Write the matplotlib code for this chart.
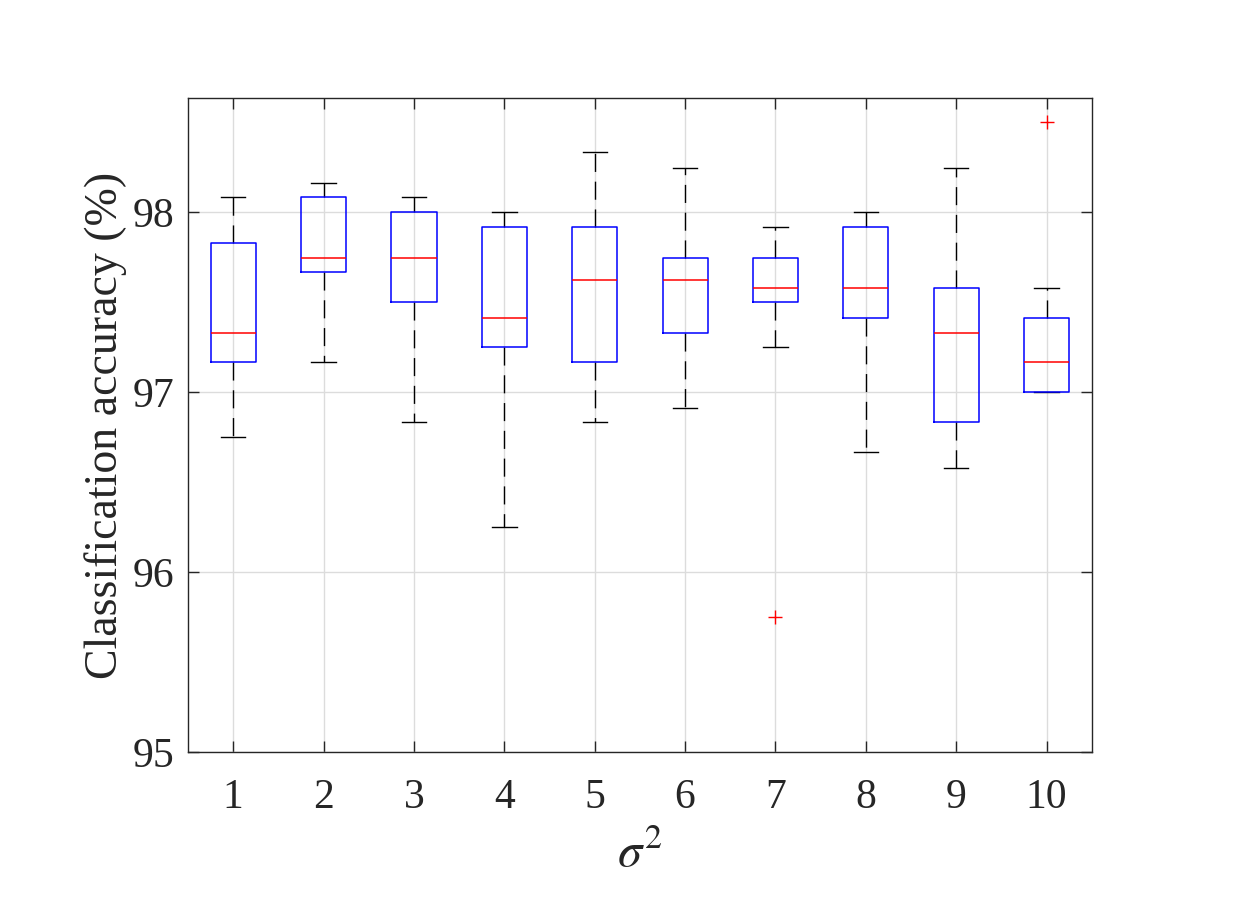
import matplotlib
matplotlib.use("Agg")
import matplotlib.pyplot as plt

plt.rcParams['font.family'] = ['Liberation Serif', 'DejaVu Serif']
plt.rcParams['mathtext.fontset'] = 'stix'

# values (classification accuracy %, per sigma^2)
sigma2 = [1, 2, 3, 4, 5, 6, 7, 8, 9, 10]
q1 = [97.165, 97.667, 97.498, 97.25, 97.165, 97.328, 97.498, 97.413, 96.835, 97.0]
med = [97.328, 97.744, 97.744, 97.413, 97.624, 97.624, 97.58, 97.58, 97.328, 97.165]
q3 = [97.83, 98.083, 98.0, 97.915, 97.915, 97.744, 97.744, 97.915, 97.58, 97.413]
whislo = [96.75, 97.165, 96.835, 96.25, 96.835, 96.91, 97.25, 96.667, 96.58, 97.0]
whishi = [98.083, 98.161, 98.083, 98.0, 98.333, 98.246, 97.915, 98.0, 98.246, 97.58]
outliers = [[], [], [], [], [], [], [95.748], [], [], [98.498]]

stats = []
for i in range(len(sigma2)):
    stats.append(dict(med=med[i], q1=q1[i], q3=q3[i], whislo=whislo[i],
                      whishi=whishi[i], fliers=outliers[i]))

fig = plt.figure(figsize=(12.41, 8.98), dpi=100)
ax = fig.add_axes([0.1515, 0.1626, 0.7283, 0.7283])

ax.bxp(stats, positions=sigma2, widths=0.5, capwidths=0.27,
       boxprops=dict(color='#0000ff', linewidth=1.1, zorder=2.2),
       medianprops=dict(color='#ff0000', linewidth=1.1, zorder=2.3),
       whiskerprops=dict(color='black', linewidth=1.0, linestyle=(0, (13, 7)), zorder=2),
       capprops=dict(color='black', linewidth=1.0, zorder=2),
       flierprops=dict(marker='+', markeredgecolor='#ff0000', markersize=10,
                       markeredgewidth=1.0, linestyle='none'))

ax.set_xlim(0.5, 10.5)
ax.set_ylim(95, 98.633)
ax.set_xticks(sigma2)
ax.set_xticklabels([str(s) for s in sigma2])
ax.set_yticks([95, 96, 97, 98])
ax.grid(True, color='#dcdcdc', linewidth=1.0)
ax.set_axisbelow(True)
ax.tick_params(direction='in', top=True, right=True, length=8, width=1.0,
               color='#262626', labelsize=30, labelcolor='#262626')
ax.tick_params(axis='x', pad=19)
ax.tick_params(axis='y', pad=10)
for sp in ax.spines.values():
    sp.set_color('#262626')
    sp.set_linewidth(1.0)

ax.set_xlabel(r'$\sigma^{2}$', fontsize=35, color='#262626', labelpad=10)
ax.set_ylabel('Classification accuracy (%)', fontsize=33, color='#262626', labelpad=4)

fig.savefig('out.png', dpi=100)
